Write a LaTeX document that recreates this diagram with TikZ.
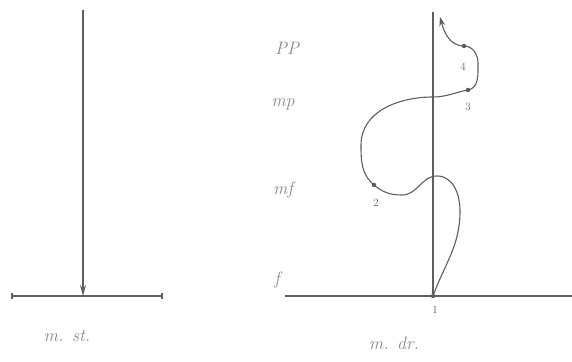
\documentclass[tikz,border=0pt]{standalone}
\usetikzlibrary{arrows.meta}
\definecolor{ink}{HTML}{5E5E5E}
\definecolor{pencil}{HTML}{8A8A8A}
\tikzset{
  line/.style={draw=ink, line width=1.1pt},
  lbl/.style={text=pencil, font=\itshape\fontsize{18}{18}\selectfont, inner sep=0pt},
  num/.style={text=ink, font=\fontsize{11}{11}\selectfont, inner sep=0pt},
  dot/.style={circle, fill=ink, inner sep=0pt, minimum size=4.5pt},
}
\begin{document}
\begin{tikzpicture}[x=1pt,y=1pt]
\useasboundingbox (0,0) rectangle (572,361);
% left diagram
\coordinate (ltop) at (83,351);
\coordinate (lbot) at (83,65);
\coordinate (lleft) at (12,65);
\coordinate (lright) at (162,65);
\draw[line] (lleft) -- (lright);
\draw[line] ([yshift=-3pt]lleft) -- ([yshift=3pt]lleft);
\draw[line] ([yshift=-3pt]lright) -- ([yshift=3pt]lright);
\draw[line, -{Stealth[length=11pt,width=6pt,open]}] (ltop) -- (lbot);
\node[lbl] (mst) at (67,25) {m. st.};
% right diagram axes
\coordinate (atop) at (433,349);
\coordinate (aleft) at (285,65);
\coordinate (aright) at (572,65);
\draw[line] (aleft) -- (aright);
% points
\node[dot] (p1) at (433,65) {};
\node[dot] (p2) at (374,176) {};
\node[dot] (p3) at (468,271) {};
\node[dot] (p4) at (464,315) {};
\draw[line] (atop) -- (p1.center);
\coordinate (tip) at (440,344);
\draw[line, -{Stealth[length=9pt,width=6pt]}]
  (p1.center) to[out=70,in=-90] (460,150)
  to[out=90,in=0] (437,185)
  to[out=180,in=0] (402,166)
  to[out=180,in=-40] (p2.center)
  to[out=140,in=-90] (361,216)
  to[out=90,in=180] (433,264)
  to[out=0,in=190] (p3.center)
  to[out=10,in=-90] (478,298)
  to[out=90,in=0] (p4.center)
  to[out=180,in=-75] (tip);
\node[num] (n1) at (435,51) {1};
\node[num] (n2) at (376,158) {2};
\node[num] (n3) at (468,254) {3};
\node[num] (n4) at (463,294) {4};
% dynamics labels
\node[lbl] (pp) at (287,313) {PP};
\node[lbl] (mp) at (283,257) {mp};
\node[lbl] (mf) at (283,171) {mf};
\node[lbl] (f) at (277,81) {f};
\node[lbl] (mdr) at (394,18) {m. dr.};
\end{tikzpicture}
\end{document}
